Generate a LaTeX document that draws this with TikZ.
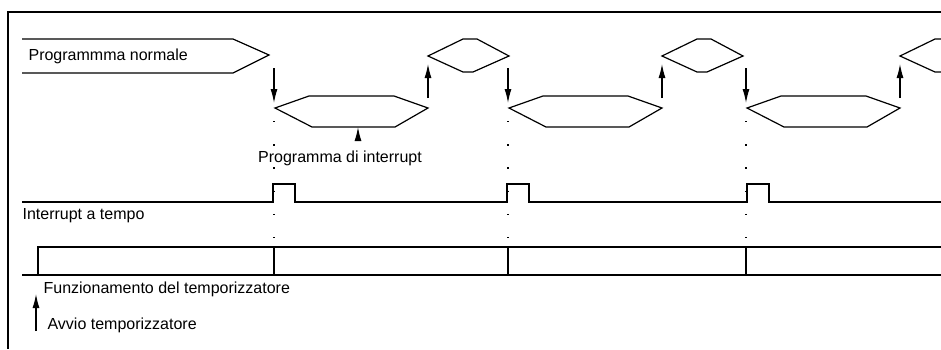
\documentclass[tikz,border=0pt]{standalone}
\usepackage{fontspec}
\setmainfont{Liberation Sans}
\usetikzlibrary{arrows.meta}

\begin{document}
\begin{tikzpicture}[x=1pt,y=-1pt,line width=1.2pt,
  lbl/.style={inner sep=0pt, anchor=west, font=\fontsize{16}{19}\selectfont},
  arr/.style={-{Latex[length=14pt,width=7pt]}, line width=1.2pt},
  dotline/.style={line width=1.4pt, dash pattern=on 1.4pt off 21.8pt}
]
  \useasboundingbox (0,0) rectangle (941,349);
  \clip (0,0) rectangle (941,349);
  % frame
  \draw (941,12) -- (8,12) -- (8,349);

  % normal program and first entry into the interrupt
  \draw (22,39) -- (233,39) -- (269,55) -- (233,73) -- (22,73);
  \node[lbl] (norm) at (28,56) {Programmma normale};

  % one interrupt cycle per timer period
  \foreach \t in {274,508,746}{
    \draw (\t+1,108) -- (\t+35,96) -- (\t+120,96) -- (\t+154,108)
          -- (\t+121,127) -- (\t+38,127) -- cycle;
    \draw (\t+154,56) -- (\t+189,39) -- (\t+203,39) -- (\t+235,56)
          -- (\t+199,72) -- (\t+189,72) -- cycle;
    \coordinate (dn\t) at (\t,68);
    \coordinate (in\t) at (\t,103);
    \coordinate (up\t) at (\t+154,98);
    \coordinate (ret\t) at (\t+154,64);
    \draw[arr] (dn\t) -- (in\t);
    \draw[arr] (up\t) -- (ret\t);
    \draw[dotline] (\t,121) -- (\t,241);
    \draw (\t,247) -- (\t,275);
  }

  \node[lbl,anchor=center] (intlab) at (340,158) {Programma di interrupt};
  \coordinate (intarr) at (358,140);
  \coordinate (inthex) at (358,127);
  \draw[arr] (intarr) -- (inthex);

  % timed interrupt signal
  \draw (22,202) foreach \p in {273,507,747}{ -- (\p,202) -- (\p,184) -- (\p+22,184) -- (\p+22,202) } -- (941,202);
  \node[lbl] (tint) at (22,216) {Interrupt a tempo};

  % timer operation
  \draw (22,275) -- (941,275);
  \draw (38,275) -- (38,247) -- (941,247);
  \node[lbl] (trun) at (43,289) {Funzionamento del temporizzatore};
  \node[lbl] (tstart) at (47,325) {Avvio temporizzatore};
  \coordinate (stfoot) at (36,331);
  \coordinate (sthead) at (36,294);
  \draw[arr] (stfoot) -- (sthead);
\end{tikzpicture}
\end{document}
